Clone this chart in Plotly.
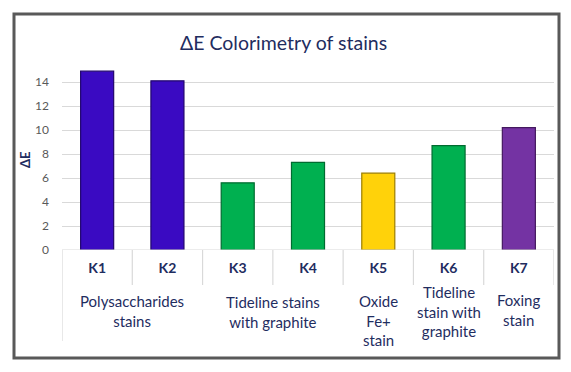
import plotly.graph_objects as go

# ---- data ----
samples = ["K1", "K2", "K3", "K4", "K5", "K6", "K7"]
delta_e = [14.9, 14.1, 5.6, 7.3, 6.4, 8.7, 10.2]
bar_colors = ["#3A0AC2", "#3A0AC2", "#00B050", "#00B050", "#FFD20A", "#00B050", "#7433A3"]
edge_colors = ["#22066E", "#22066E", "#006B30", "#006B30", "#9C7E00", "#006B30", "#44195F"]
groups = ["Polysaccharides<br>stains", "Tideline stains<br>with graphite", "Oxide<br>Fe+<br>stain",
          "Tideline<br>stain with<br>graphite", "Foxing<br>stain"]
group_members = [[0, 1], [2, 3], [4], [5], [6]]
y_ticks = [0, 2, 4, 6, 8, 10, 12, 14]
title_text = "ΔE Colorimetry of stains"
y_title = "ΔE"

# ---- layout geometry (pixels) ----
W, H = 571, 372
L, R = 62, 554          # plot area x
T, B = 58, 250          # plot area y (top = 16, bottom = 0)
ymax = 16

def px2x(px):
    return (px - L) / (R - L)

def py2y(py):
    return (B - py) / (B - T)

navy = "#1F2D5F"
font_family = "Lato, 'Open Sans', sans-serif"

fig = go.Figure()
fig.add_trace(go.Bar(
    x=samples, y=delta_e, width=0.47,
    marker=dict(color=bar_colors, line=dict(color=edge_colors, width=1.2)),
    hoverinfo="x+y",
))

shapes = []
# outer frame
shapes.append(dict(type="rect", xref="paper", yref="paper",
                   x0=px2x(14), x1=px2x(559), y0=py2y(358), y1=py2y(14),
                   line=dict(color="#595959", width=3), fillcolor="rgba(0,0,0,0)", layer="below"))
# category dividers
n = len(samples)
for i in range(n + 1):
    y1 = py2y(341) if i == 0 else py2y(285)
    shapes.append(dict(type="line", xref="x", yref="paper", x0=i - 0.5, x1=i - 0.5,
                       y0=0, y1=y1, line=dict(color="#D9D9D9", width=1.2)))
# baseline
shapes.append(dict(type="line", xref="paper", yref="y", x0=0, x1=1, y0=0, y1=0,
                   line=dict(color="#D9D9D9", width=1.2)))

annotations = []
group_centers_py = [311, 312, 320, 311, 310]
for g, members, cy in zip(groups, group_members, group_centers_py):
    cx = sum(members) / len(members)
    annotations.append(dict(text=g, x=cx, xref="x", y=py2y(cy), yref="paper",
                            yanchor="middle", xanchor="center", showarrow=False,
                            font=dict(family=font_family, size=15, color=navy)))
annotations.append(dict(text="<b>" + y_title + "</b>", x=px2x(25), xref="paper", y=py2y(160), yref="paper",
                        textangle=-90, showarrow=False, xanchor="center", yanchor="middle",
                        font=dict(family=font_family, size=13, color=navy)))
annotations.append(dict(text=title_text, x=px2x(283), xref="paper", y=py2y(42), yref="paper",
                        showarrow=False, xanchor="center", yanchor="middle",
                        font=dict(family=font_family, size=19.5, color=navy)))

fig.update_layout(
    width=W, height=H,
    margin=dict(l=L, r=W - R, t=T, b=H - B, pad=0),
    paper_bgcolor="white", plot_bgcolor="white",
    showlegend=False,
    shapes=shapes, annotations=annotations,
    font=dict(family=font_family),
    bargap=0.5,
)
fig.update_xaxes(type="category", showgrid=False, showline=False, zeroline=False,
                 ticks="", tickfont=dict(family=font_family, size=14, color=navy, weight="bold"),
                 ticklabelstandoff=8, range=[-0.5, n - 0.5])
fig.update_yaxes(range=[0, ymax], tickvals=y_ticks, showgrid=True, gridcolor="#D9D9D9", gridwidth=1,
                 zeroline=False, showline=False, ticks="",
                 tickfont=dict(family=font_family, size=12, color="#595959"),
                 ticklabelstandoff=12)

fig.write_html("out.html", config={"displayModeBar": False},
               post_script="document.body.style.margin='0';document.body.style.padding='0';")
